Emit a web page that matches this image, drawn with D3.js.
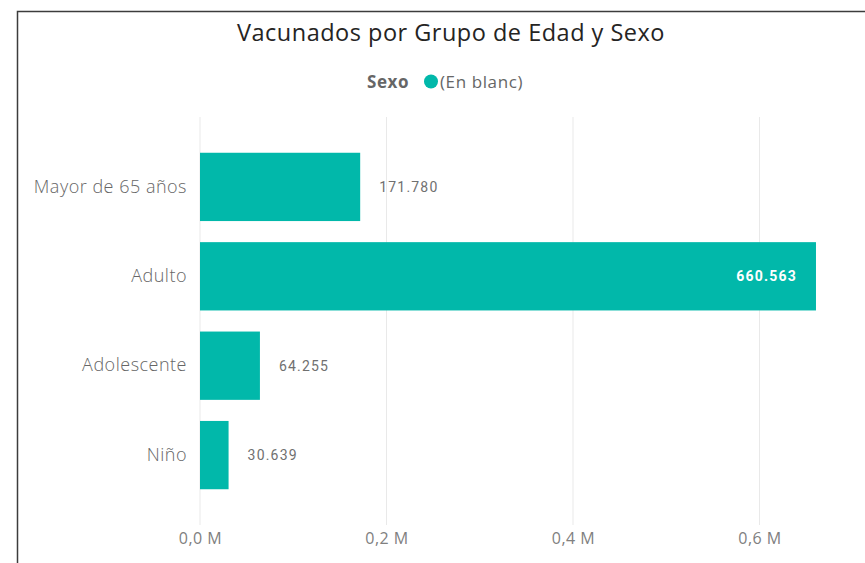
<!DOCTYPE html>
<head>
  <meta charset="utf-8">
  <title>Vacunados por Grupo de Edad y Sexo</title>
  <script src="https://d3js.org/d3.v7.min.js"></script>
  <style>
    body { margin:0; background:#fff; }
    svg { display:block; }
  </style>
</head>

<body>
  <svg width="865" height="563"></svg>
  <script>
    var categories = ['Mayor de 65 años', 'Adulto', 'Adolescente', 'Niño'];
    var values = [171780, 660563, 64255, 30639];
    var xTicks = [0, 200000, 400000, 600000];
    var legendTitle = 'Sexo';
    var legendItems = ['(En blanc)'];

    var teal = '#01b8aa';
    var svg = d3.select('svg');

    // frame of the visual (runs off right and bottom)
    svg.append('path')
      .attr('d', 'M17.5,600 V11.5 H900')
      .attr('fill', 'none')
      .attr('stroke', '#3c3c3c')
      .attr('stroke-width', 1.5);

    svg.append('text')
      .attr('x', 451).attr('y', 41)
      .attr('text-anchor', 'middle')
      .attr('font-family', 'Open Sans, sans-serif')
      .attr('font-size', 23.5)
      .attr('letter-spacing', 0.5)
      .attr('fill', '#252423')
      .text('Vacunados por Grupo de Edad y Sexo');

    // legend
    var lg = svg.append('g').attr('font-family', 'Open Sans, sans-serif')
      .attr('font-size', 17).attr('letter-spacing', 0.6);
    lg.append('text').attr('x', 367).attr('y', 88)
      .attr('font-weight', 'bold').attr('fill', '#666').text(legendTitle);
    lg.selectAll('circle').data(legendItems).enter().append('circle')
      .attr('cx', 431).attr('cy', 81.5).attr('r', 7).attr('fill', teal);
    lg.selectAll('text.item').data(legendItems).enter().append('text')
      .attr('class', 'item').attr('x', 440).attr('y', 88)
      .attr('fill', '#666').text(d => d);

    var x = d3.scaleLinear().domain([0, 1000000]).range([200, 1132.5]);
    var y = d3.scaleBand().domain(categories).range([117, 525])
      .paddingInner(0.236).paddingOuter(0.4);

    // gridlines
    svg.append('g').selectAll('line').data(xTicks).enter().append('line')
      .attr('x1', d => x(d)).attr('x2', d => x(d))
      .attr('y1', 117).attr('y2', 525)
      .attr('stroke', '#e9e9e9').attr('stroke-width', 1);

    // x axis labels
    var fmt = d => (d / 1e6).toFixed(1).replace('.', ',') + ' M';
    var xAxis = svg.append('g').attr('transform', 'translate(0,530)')
      .call(d3.axisBottom(x).tickValues(xTicks).tickFormat(fmt).tickSize(0));
    xAxis.select('.domain').remove();
    xAxis.selectAll('text')
      .attr('font-family', 'Open Sans, sans-serif').attr('font-size', 16)
      .attr('letter-spacing', 0.5)
      .attr('fill', '#808080').attr('dy', '0.71em').attr('y', 3);

    // y axis labels
    var yAxis = svg.append('g').attr('transform', 'translate(187,0)')
      .call(d3.axisLeft(y).tickSize(0).tickPadding(0));
    yAxis.select('.domain').remove();
    yAxis.selectAll('text')
      .attr('font-family', 'Open Sans, sans-serif').attr('font-size', 18)
      .attr('letter-spacing', 0.5)
      .attr('font-weight', 300)
      .attr('fill', '#666');

    // bars
    svg.append('g').selectAll('rect').data(values).enter().append('rect')
      .attr('x', x(0))
      .attr('y', (d, i) => y(categories[i]))
      .attr('width', d => x(d) - x(0))
      .attr('height', y.bandwidth())
      .attr('fill', teal);

    // data labels
    var numFmt = d => d3.format(',')(d).replace(/,/g, '.');
    svg.append('g').selectAll('text').data(values).enter().append('text')
      .attr('font-family', 'Roboto, sans-serif')
      .attr('font-size', 14)
      .attr('letter-spacing', 1.2)
      .attr('y', (d, i) => y(categories[i]) + y.bandwidth() / 2)
      .attr('dy', '0.35em')
      .each(function (d) {
        var el = d3.select(this);
        var inside = x(d) > 700;
        el.attr('x', inside ? x(d) - 19 : x(d) + 19)
          .attr('text-anchor', inside ? 'end' : 'start')
          .attr('fill', inside ? '#fff' : '#707070')
          .attr('font-weight', inside ? 'bold' : 'normal')
          .text(numFmt(d));
      });
  </script>
</body>
